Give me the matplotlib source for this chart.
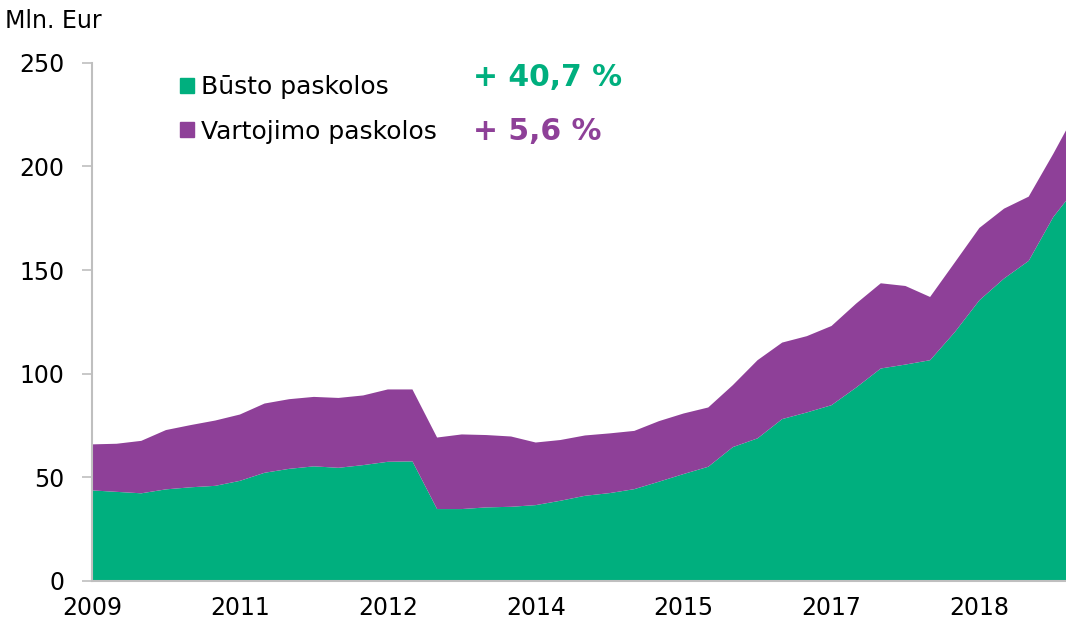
import matplotlib
matplotlib.use("Agg")
import matplotlib.pyplot as plt
from matplotlib.patches import Patch
import numpy as np

# quarterly values, mln. Eur
busto = [43.7, 43.0, 42.3, 44.2, 45.2, 45.9, 48.3, 52.2, 54.1, 55.3,
         54.6, 55.9, 57.5, 57.7, 34.7, 34.7, 35.5, 35.8, 36.6, 38.7,
         41.1, 42.4, 44.3, 47.9, 51.6, 55.1, 64.6, 68.8, 78.1, 81.3,
         84.8, 93.3, 102.5, 104.4, 106.5, 120.0, 135.4, 145.9, 154.4, 175.6,
         190.7]
vartojimo = [22.2, 23.2, 25.3, 28.6, 30.0, 31.5, 32.0, 33.4, 33.6, 33.5,
             33.7, 33.6, 34.9, 34.7, 34.5, 36.0, 34.9, 33.9, 30.2, 29.3,
             29.1, 28.8, 28.1, 29.2, 29.2, 28.6, 29.9, 37.7, 36.9, 36.8,
             38.2, 40.5, 41.1, 37.9, 30.5, 33.6, 34.9, 33.7, 31.0, 30.5,
             37.3]
x_labels = ["2009", "2011", "2012", "2014", "2015", "2017", "2018"]
label_step = 6
series_names = ["Būsto paskolos", "Vartojimo paskolos"]
growth = ["+ 40,7 %", "+ 5,6 %"]

green = "#00AF7E"
purple = "#8E4098"
W, H = 1066, 623

fig = plt.figure(figsize=(W / 100, H / 100), dpi=100)
ax = fig.add_axes([92 / W, 42 / H, 974 / W, 518.3 / H])

x = np.arange(len(busto))
ax.stackplot(x, busto, vartojimo, colors=[green, purple], linewidth=0)

ax.set_xlim(0, 974 / 24.65)  # last quarter is cut by the right edge
ax.set_ylim(0, 250)
ax.set_yticks(range(0, 251, 50))
ax.set_xticks(x[::label_step][:len(x_labels)])
ax.set_xticklabels(x_labels)

for s in ["top", "right"]:
    ax.spines[s].set_visible(False)
for s in ["left", "bottom"]:
    ax.spines[s].set_color("#BFBFBF")
    ax.spines[s].set_linewidth(1.5)
    ax.spines[s].set_zorder(3)
ax.tick_params(axis="y", length=7, width=1.2, color="#BFBFBF", pad=13, labelsize=17)
ax.tick_params(axis="x", length=0, pad=11, labelsize=17)

fig.text(5 / W, 1 - 21 / H, "Mln. Eur", fontsize=17, va="center")

handles = [Patch(color=green), Patch(color=purple)]
ax.legend(handles, series_names, loc="upper left",
          bbox_to_anchor=(180 / W, 1 - 75 / H), bbox_transform=fig.transFigure,
          frameon=False, fontsize=18, handlelength=0.55, handleheight=0.55,
          handletextpad=0.3, borderpad=0, borderaxespad=0, labelspacing=0.82)

for txt, c, yc in zip(growth, [green, purple], [78, 132]):
    fig.text(473 / W, 1 - yc / H, txt, color=c, fontsize=21.5,
             fontweight="bold", va="center")

fig.savefig("out.png", dpi=100)
